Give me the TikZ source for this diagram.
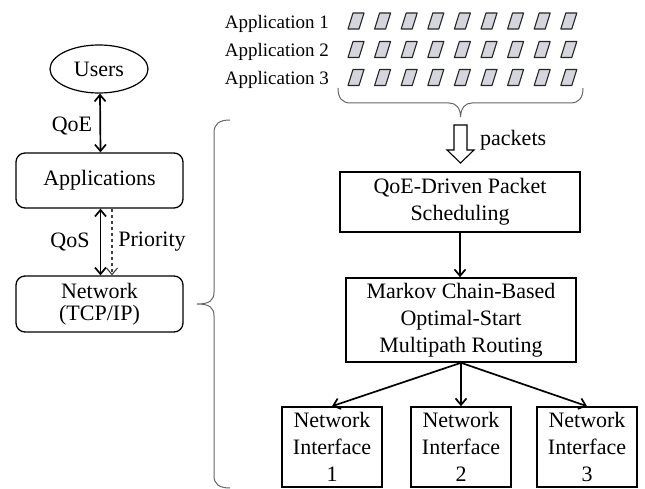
\documentclass[tikz,border=0pt]{standalone}
\usepackage{fontspec}
\setmainfont{Liberation Serif}
\usetikzlibrary{shapes.geometric,arrows.meta}
\tikzset{
  txt/.style={inner sep=0pt, font=\fontsize{22}{27}\selectfont},
  applbl/.style={inner sep=0pt, font=\fontsize{19}{23}\selectfont, anchor=base east},
  plainbox/.style={draw, line width=1.6pt, align=center, inner sep=0pt, font=\fontsize{22}{27}\selectfont},
  roundbox/.style={plainbox, line width=1.3pt, rounded corners=9pt},
  barb/.tip={Straight Barb[length=6.5pt,width=11pt]},
  link/.style={line width=1.7pt, -barb},
  duplex/.style={line width=1.7pt, barb-barb},
  hint/.style={line width=1.1pt, draw=black!75, dash pattern=on 3.5pt off 2.5pt, -barb},
  pkt/.style={draw=black!85, fill=blue!10!gray!30, line width=1.1pt, line join=round},
  bracket/.style={draw=black!60, line width=1pt},
  hollow/.style={draw=black, fill=white, line width=1.1pt}
}
\begin{document}
\begin{tikzpicture}[x=1pt,y=-1pt]
\useasboundingbox (0,0) rectangle (645,489);

% left column: layered model
\node[ellipse, draw, line width=1.2pt, minimum width=98pt, minimum height=48pt, txt] (users) at (99,69) {Users};
\node[roundbox, minimum width=167pt, minimum height=55pt] (apps) at (99.5,180.5) {Applications};
\node[roundbox, minimum width=167pt, minimum height=56pt, font=\fontsize{22}{22}\selectfont] (net) at (99.5,304) {Network\\(TCP/IP)};

\draw[duplex] ([xshift=1pt]users.south) -- ([xshift=1pt]apps.north);
\draw[duplex] ([xshift=1pt]apps.south) -- ([xshift=1pt]net.north);
\draw[hint] ([xshift=12.5pt]apps.south) -- ([xshift=12.5pt]net.north);

\node[txt] (qoe) at (72,126) {QoE};
\node[txt] (qos) at (70,242) {QoS};
\node[txt] (prio) at (152,242) {Priority};

% large brace grouping the right-hand detail
\draw[bracket] (230,120) .. controls (219,120) and (214,124) .. (214,133)
  -- (214,292) .. controls (214,300) and (210,304) .. (197,304)
  .. controls (210,304) and (214,308) .. (214,316)
  -- (214,476) .. controls (214,484) and (219,488) .. (230,488);

% application packet streams
\node[applbl] (app1) at (329,29) {Application 1};
\node[applbl] (app2) at (329,57) {Application 2};
\node[applbl] (app3) at (329,85) {Application 3};
\foreach \yy in {21,49.5,77.5}{
  \foreach \i in {0,...,8}{
    \pgfmathsetmacro\xx{356+26.6*\i}
    \draw[pkt] (\xx-8,\yy+8) -- (\xx+3,\yy+8) -- (\xx+8,\yy-8) -- (\xx-3,\yy-8) -- cycle;
  }
}

% brace collecting the packets
\draw[bracket] (338,88) .. controls (338,98) and (342,103) .. (351,103)
  -- (449,103) .. controls (456,103) and (460.5,108) .. (460.5,117)
  .. controls (461,108) and (465,103) .. (472,103)
  -- (570,103) .. controls (579,103) and (583,98) .. (583,88);
\coordinate (btip) at (460.5,117);

% hollow arrow into the scheduler
\draw[hollow] ([xshift=-6.5pt,yshift=-8pt]btip) -- ++(0,25) -- ++(-7,0) -- ++(13.5,13) -- ++(13.5,-13) -- ++(-7,0) -- ++(0,-25) -- cycle;
\node[txt, anchor=base west] (pk) at (480,146) {packets};

% scheduling and routing pipeline
\node[plainbox, minimum width=240pt, minimum height=60pt] (sched) at (460,202) {QoE-Driven Packet\\Scheduling};
\node[plainbox, minimum width=230pt, minimum height=84pt] (route) at (461,320) {Markov Chain-Based\\Optimal-Start\\Multipath Routing};
\node[plainbox, minimum width=100pt, minimum height=80pt] (ni1) at (332,447) {Network\\Interface\\1};
\node[plainbox, minimum width=100pt, minimum height=80pt] (ni2) at (461,447) {Network\\Interface\\2};
\node[plainbox, minimum width=100pt, minimum height=80pt] (ni3) at (587,447) {Network\\Interface\\3};

\draw[link] (sched.south) -- (sched.south |- route.north);
\draw[link] (route.south) -- (ni1.north);
\draw[link] (route.south) -- (ni2.north);
\draw[link] (route.south) -- (ni3.north);
\end{tikzpicture}
\end{document}
